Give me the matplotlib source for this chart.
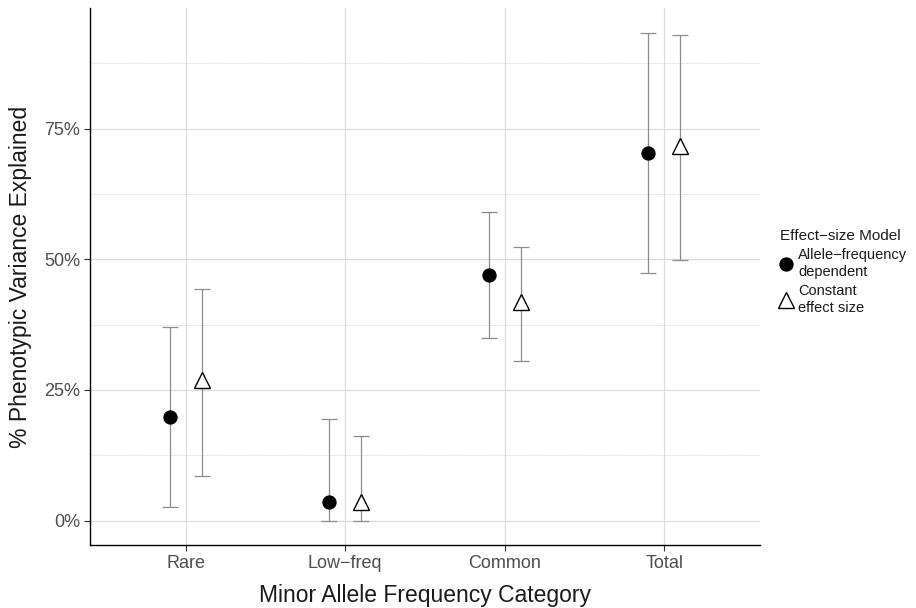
import matplotlib
matplotlib.use("Agg")
import matplotlib.pyplot as plt
import numpy as np
from matplotlib.lines import Line2D
from matplotlib.ticker import FixedLocator

plt.rcParams['font.family'] = ['Liberation Sans', 'DejaVu Sans']

categories = ["Rare", "Low\u2212freq", "Common", "Total"]

# Allele-frequency dependent model
afd_mean = [19.8, 3.6, 47.0, 70.4]
afd_low = [2.6, 0.0, 35.0, 47.4]
afd_high = [37.0, 19.5, 59.0, 93.4]

# Constant effect size model
ces_mean = [26.9, 3.6, 41.8, 71.7]
ces_low = [8.6, 0.0, 30.6, 49.8]
ces_high = [44.3, 16.1, 52.4, 92.9]

fig = plt.figure(figsize=(9.16, 6.08), dpi=100)
ax = fig.add_axes([90 / 916, 1 - 545 / 608, 670 / 916, 537 / 608])

x = np.arange(len(categories))
dodge = 0.1
err_color = "#8c8c8c"

def draw(xpos, mean, low, high, marker, face, size):
    mean = np.array(mean)
    yerr = [mean - np.array(low), np.array(high) - mean]
    ax.errorbar(xpos, mean, yerr=yerr, fmt="none", ecolor=err_color,
                elinewidth=0.9, capsize=5.5, capthick=0.9, zorder=2)
    ax.plot(xpos, mean, linestyle="none", marker=marker, markersize=size,
            markerfacecolor=face, markeredgecolor="black",
            markeredgewidth=1.0, zorder=3)

draw(x - dodge, afd_mean, afd_low, afd_high, "o", "black", 9.3)
draw(x + dodge, ces_mean, ces_low, ces_high, "^", "white", 12)

ax.set_xlim(-0.6, len(categories) - 1 + 0.6)
ax.set_ylim(-4.67, 98.1)
ax.set_xticks(x)
ax.set_xticklabels(categories, fontsize=13)
ax.set_yticks([0, 25, 50, 75])
ax.set_yticklabels(["0%", "25%", "50%", "75%"], fontsize=13)
ax.yaxis.set_minor_locator(FixedLocator([12.5, 37.5, 62.5, 87.5]))
ax.tick_params(axis="y", which="minor", length=0)
ax.tick_params(axis="both", which="major", length=4, color="#333333",
               labelcolor="#4d4d4d", width=0.8, pad=3)

ax.grid(True, which="major", axis="both", color="#dcdcdc", linewidth=0.9, zorder=0)
ax.grid(True, which="minor", axis="y", color="#cfcfcf", linewidth=0.6,
        linestyle=(0, (1, 1)), zorder=0)
ax.set_axisbelow(True)

for side in ["top", "right"]:
    ax.spines[side].set_visible(False)
for side in ["left", "bottom"]:
    ax.spines[side].set_linewidth(1.0)
    ax.spines[side].set_color("black")

ax.set_xlabel("Minor Allele Frequency Category", fontsize=16.5, labelpad=9,
              color="#1a1a1a")
ax.set_ylabel("% Phenotypic Variance Explained", fontsize=16.5, labelpad=9,
              color="#1a1a1a")

handles = [
    Line2D([], [], linestyle="none", marker="o", markersize=9.3,
           markerfacecolor="black", markeredgecolor="black"),
    Line2D([], [], linestyle="none", marker="^", markersize=12,
           markerfacecolor="white", markeredgecolor="black"),
]
labels = ["Allele\u2212frequency\ndependent", "Constant\neffect size"]
leg = fig.legend(handles, labels, title="Effect\u2212size Model",
                 loc="upper left", bbox_to_anchor=(774 / 916, 1 - 223 / 608),
                 frameon=False, fontsize=10.5, title_fontsize=11,
                 handlelength=0.8, handletextpad=0.45, labelspacing=0.35,
                 borderaxespad=0, alignment="left")
for t in leg.get_texts():
    t.set_linespacing(1.25)
    t.set_color("#1a1a1a")
leg.get_title().set_color("#1a1a1a")

fig.savefig("out.png", dpi=100)
